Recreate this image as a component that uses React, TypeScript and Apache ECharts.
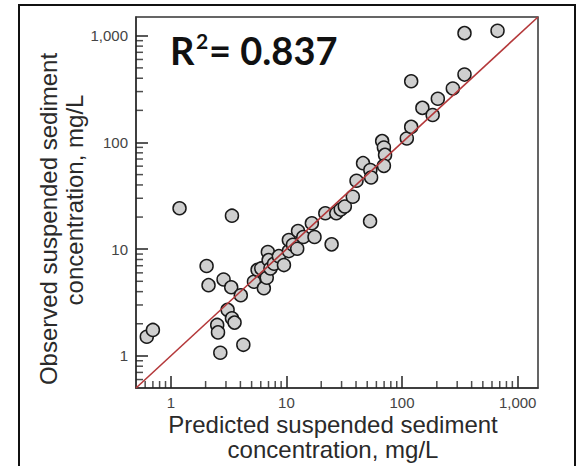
import React, { useEffect, useRef } from "react";
import * as echarts from "echarts";

// Predicted (x) and observed (y) suspended sediment concentration, mg/L
const predicted = [
  0.62, 0.7, 1.19, 3.38, 2.04, 2.12, 2.86, 3.33, 4.03, 3.1, 3.38, 3.56, 2.52, 2.56, 2.68, 4.24,
  5.24, 5.63, 6.06, 6.38, 6.76, 6.91, 7.01, 7.28, 7.82, 8.6, 9.52, 10.5, 10.5, 11.4, 12.4, 12.6,
  14.0, 16.6, 17.5, 21.7, 24.6, 27.0, 29.5, 32.0, 37.5, 40.4, 46.0, 53.2, 54.0, 52.9, 67.3, 69.7,
  71.3, 69.7, 110, 120, 120, 150, 184, 204, 275, 347, 347, 670,
];
const observed = [
  1.51, 1.75, 24.2, 20.6, 6.95, 4.6, 5.2, 4.4, 3.7, 2.7, 2.25, 2.05, 1.95, 1.66, 1.07, 1.27,
  4.95, 6.4, 6.6, 4.3, 5.4, 9.4, 7.9, 6.6, 7.3, 8.6, 7.1, 9.6, 12.2, 11.0, 10.1, 14.8,
  13.0, 17.5, 13.0, 21.7, 11.1, 21.7, 23.5, 25.1, 31.0, 43.8, 64.0, 55.1, 47.0, 18.3, 103, 89.6,
  76.5, 60.4, 109, 140, 375, 211, 181, 257, 320, 433, 1059, 1113,
];
const oneToOneLine = [0.5, 1500];
const axisMin = 0.5;
const axisMax = 1500;
const labelledTicks = [1, 10, 100, 1000];
const minorTicks = [
  0.6, 0.7, 0.8, 0.9, 2, 3, 4, 5, 6, 7, 8, 9, 20, 30, 40, 50, 60, 70, 80, 90,
  200, 300, 400, 500, 600, 700, 800, 900,
];
const xTitle = ["Predicted suspended sediment", "concentration, mg/L"];
const yTitle = ["Observed suspended sediment", "concentration, mg/L"];
const r2Label = ["R", "2", "= 0.837"];

const FONT = "'Liberation Sans', Arial, sans-serif";
const AXIS_COLOR = "#333";
const TICK_COLOR = "#222";

const fmt = (v: number) => {
  const hit = labelledTicks.find((t) => Math.abs(t - v) < 1e-6 * t);
  if (hit === undefined) return "";
  return hit >= 1000 ? hit.toLocaleString("en-US") : String(hit);
};

function mainAxis(margin: number) {
  return {
    type: "log",
    logBase: 10,
    min: axisMin,
    max: axisMax,
    axisLine: { show: true, lineStyle: { color: AXIS_COLOR, width: 1.5 } },
    axisTick: {
      show: true,
      inside: true,
      length: 12,
      lineStyle: { color: TICK_COLOR, width: 1.5 },
    },
    axisLabel: {
      formatter: fmt,
      showMinLabel: false,
      showMaxLabel: false,
      fontSize: 15,
      color: "#444",
      fontFamily: FONT,
      margin,
    },
    splitLine: { show: false },
    minorTick: { show: false },
  };
}

// Inward minor tick marks, placed on the axes through the chart's own log scales
function tickSeries(values: number[], dir: "x" | "y", len: number) {
  return {
    type: "scatter",
    clip: false,
    symbol: "rect",
    symbolSize: dir === "x" ? [1.5, len] : [len, 1.5],
    symbolOffset: dir === "x" ? [0, -len / 2] : [len / 2, 0],
    itemStyle: { color: TICK_COLOR },
    data: values.map((v) => (dir === "x" ? [v, axisMin] : [axisMin, v])),
  };
}

export default function App() {
  const ref = useRef<HTMLDivElement>(null);
  useEffect(() => {
    if (!ref.current) return;
    const chart = echarts.init(ref.current, null, { renderer: "svg" });
    const points = predicted.map((p, i) => [p, observed[i]]);
    const option: any = {
      animation: false,
      backgroundColor: "#fff",
      grid: {
        left: 136,
        right: 41,
        top: 17,
        bottom: 78,
        show: true,
        borderColor: AXIS_COLOR,
        borderWidth: 1.5,
      },
      xAxis: [{ ...mainAxis(7), position: "bottom" }],
      yAxis: [{ ...mainAxis(8), position: "left" }],
      series: [
        {
          type: "line",
          data: oneToOneLine.map((v) => [v, v]),
          symbol: "none",
          lineStyle: { color: "#b4383a", width: 1.6 },
          silent: true,
        },
        tickSeries(minorTicks, "x", 7),
        tickSeries(minorTicks, "y", 7),
        {
          type: "scatter",
          data: points,
          symbol: "circle",
          symbolSize: 13,
          itemStyle: { color: "#cfcfcf", borderColor: "#1a1a1a", borderWidth: 1.5, opacity: 1 },
        },
      ],
      graphic: [
        {
          type: "rect",
          shape: { x: 19, y: 5, width: 556, height: 480 },
          style: { fill: "none", stroke: "#111", lineWidth: 2 },
          silent: true,
        },
        {
          type: "text",
          x: 170,
          y: 50,
          style: {
            text: r2Label[0],
            font: "bold 38px Lato, 'Open Sans', sans-serif",
            fill: "#111",
            textAlign: "left",
            textVerticalAlign: "middle",
          },
        },
        {
          type: "text",
          x: 196,
          y: 40,
          style: {
            text: r2Label[1],
            font: "bold 21px Lato, 'Open Sans', sans-serif",
            fill: "#111",
            textAlign: "left",
            textVerticalAlign: "middle",
          },
        },
        {
          type: "text",
          x: 209,
          y: 50,
          style: {
            text: r2Label[2],
            font: "bold 38px Lato, 'Open Sans', sans-serif",
            fill: "#111",
            textAlign: "left",
            textVerticalAlign: "middle",
          },
        },
        ...xTitle.map((t, i) => ({
          type: "text",
          x: 333,
          y: 424 + i * 25,
          style: {
            text: t,
            font: `24px ${FONT}`,
            fill: "#2a2a2a",
            textAlign: "center",
            textVerticalAlign: "middle",
          },
        })),
        ...yTitle.map((t, i) => ({
          type: "text",
          x: 48 + i * 26,
          y: 219 - i * 19,
          rotation: Math.PI / 2,
          style: {
            text: t,
            font: `24px ${FONT}`,
            fill: "#2a2a2a",
            textAlign: "center",
            textVerticalAlign: "middle",
          },
        })),
      ],
    };
    chart.setOption(option);
    return () => chart.dispose();
  }, []);
  return (
    <div
      ref={ref}
      style={{ position: "absolute", left: 0, top: 0, width: 579, height: 466 }}
    />
  );
}
